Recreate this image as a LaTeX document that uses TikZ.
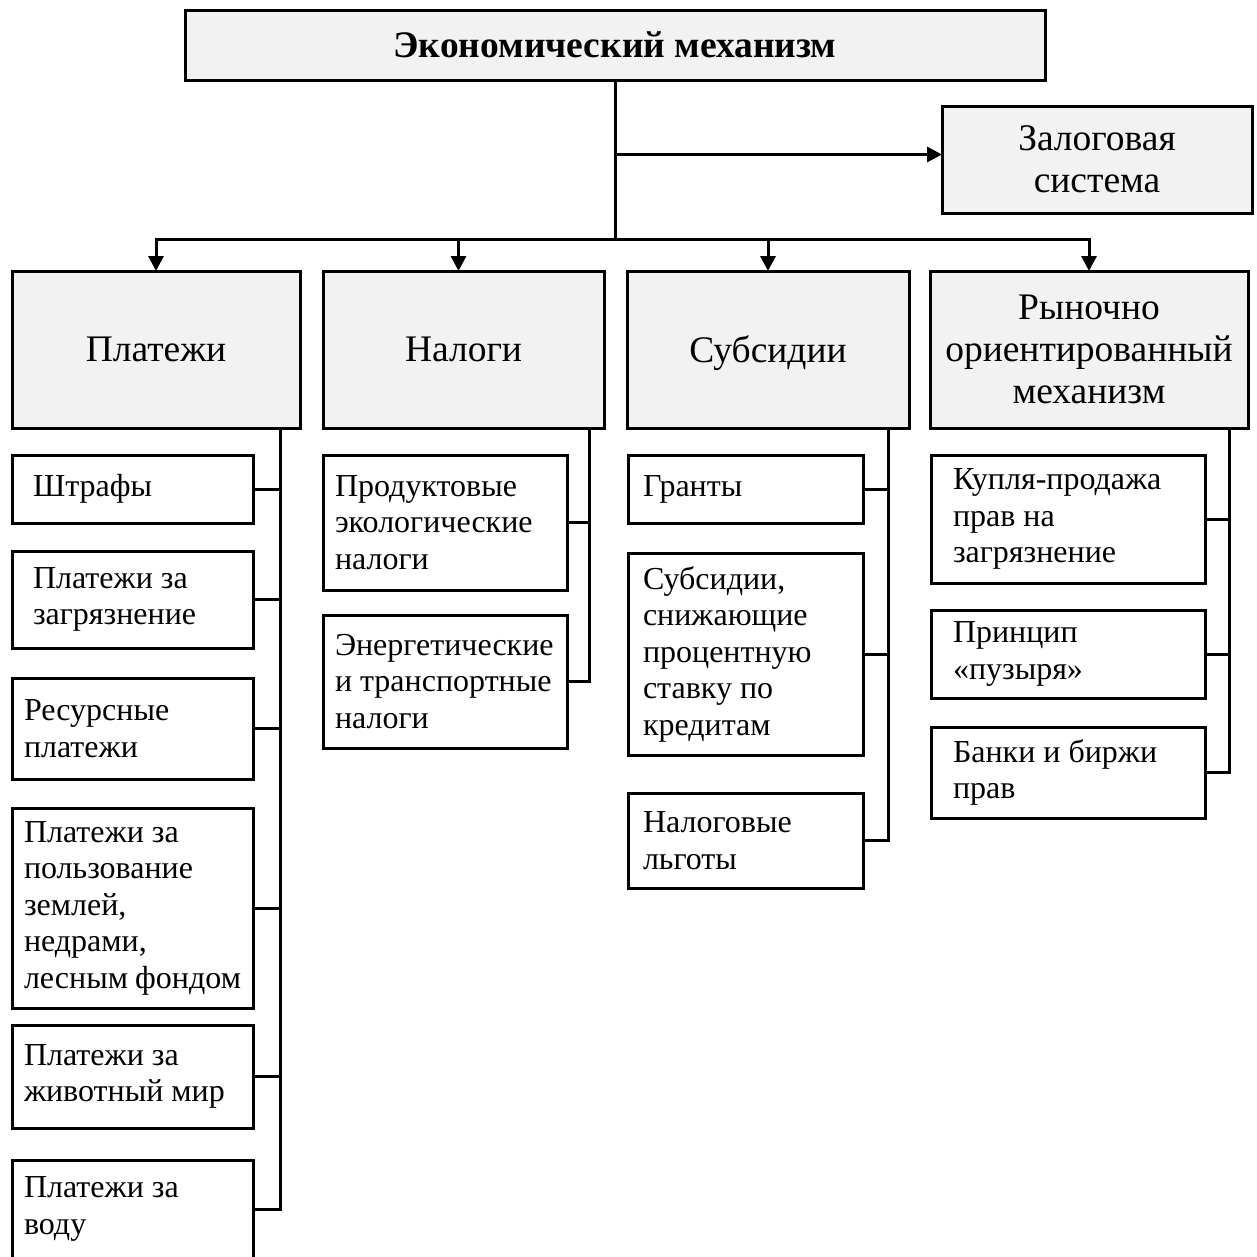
\documentclass[tikz,border=0pt]{standalone}
\usepackage{fontspec}
\setmainfont{Liberation Serif}
\usetikzlibrary{arrows.meta}
\definecolor{boxgray}{gray}{0.95}

\begin{document}
\begin{tikzpicture}[x=1pt, y=-1pt,
        box/.style={draw=black, line width=3pt, outer sep=0pt, inner sep=0pt, anchor=north west},
        headbox/.style={box, fill=boxgray, align=center, font=\fontsize{37.5}{42}\selectfont},
        itembox/.style={box, fill=white, align=flush left, font=\fontsize{32}{36.5}\selectfont},
        colA/.style={itembox, minimum width=241pt, inner xsep=12pt, text width=217pt},
        colB/.style={itembox, minimum width=244pt, inner xsep=12pt, text width=220pt},
        colC/.style={itembox, minimum width=235pt, inner xsep=15pt, text width=205pt},
        colD/.style={itembox, minimum width=274pt, inner xsep=22pt, text width=230pt},
        link/.style={line width=3pt},
        arrow/.style={line width=3pt, -{Triangle[width=15pt,length=15pt]}}]

        \useasboundingbox (0,0) rectangle (1257,1256);
        \clip (0,0) rectangle (1257,1256);

        % top
        \node[headbox, font=\fontsize{37.5}{42}\selectfont\bfseries, minimum width=860pt, minimum height=70pt] (econ) at (185,10) {Экономический механизм};
        \node[headbox, minimum width=310pt, minimum height=107pt] (zalog) at (942,106) {Залоговая\\система};

        \node[headbox, minimum width=288pt, minimum height=157pt] (plat) at (12,271) {Платежи};
        \node[headbox, minimum width=281pt, minimum height=157pt] (nal) at (323,271) {Налоги};
        \node[headbox, text depth=0pt, minimum width=282pt, minimum height=157pt] (subsid) at (627,271) {Субсидии};
        \node[headbox, minimum width=318pt, minimum height=157pt] (ryn) at (930,271) {Рыночно\\ориентированный\\механизм};

        \coordinate (bus) at (econ.south |- 0,239);
        \coordinate (zin) at ([yshift=5pt]zalog.west);
        \draw[link] (econ.south) -- (bus);
        \draw[arrow] (zin -| econ.south) -- (zin);
        \draw[arrow] (bus) -| (plat.north);
        \draw[arrow] (bus) -| ([xshift=-5pt]nal.north);
        \draw[arrow] (bus) -| (subsid.north);
        \draw[arrow] (bus) -| (ryn.north);

        % platezhi
        \node[colA, inner xsep=21pt, text width=199pt, minimum height=68pt] (shtraf) at (12,455) {Штрафы};
        \node[colA, inner xsep=21pt, text width=199pt, minimum height=97pt] (zagr) at (12,551) {Платежи за\\загрязнение};
        \node[colA, minimum height=101pt] (resurs) at (12,678) {Ресурсные\\платежи};
        \node[colA, minimum height=200pt] (polz) at (12,808) {Платежи за\\пользование\\землей,\\недрами,\\лесным~фондом};
        \node[colA, minimum height=103pt] (zhiv) at (12,1025) {Платежи за\\животный мир};
        \node[colA, minimum height=98pt] (voda) at (12,1160) {Платежи за\\воду};

        \coordinate (platbus) at ([xshift=-20pt]plat.south east);
        \draw[link] (platbus) |- (voda.east);
        \foreach \n in {shtraf,zagr,resurs,polz,zhiv}
            \draw[link] (\n.east) -- (\n.east -| platbus);

        % nalogi
        \node[colB, minimum height=135pt] (prod) at (323,455) {Продуктовые\\экологические\\налоги};
        \node[colB, minimum height=133pt] (energ) at (323,615) {Энергетические\\и транспортные\\налоги};

        \coordinate (nalbus) at ([xshift=-15pt]nal.south east);
        \draw[link] (nalbus) |- (energ.east);
        \draw[link] (prod.east) -- (prod.east -| nalbus);

        % subsidii
        \node[colC, minimum height=68pt] (grant) at (628,455) {Гранты};
        \node[colC, minimum height=202pt] (snizh) at (628,553) {Субсидии,\\снижающие\\процентную\\ставку по\\кредитам};
        \node[colC, minimum height=95pt] (lgot) at (628,793) {Налоговые\\льготы};

        \coordinate (subbus) at ([xshift=-21pt]subsid.south east);
        \draw[link] (subbus) |- (lgot.east);
        \foreach \n in {grant,snizh}
            \draw[link] (\n.east) -- (\n.east -| subbus);

        % rynok
        \node[colD, minimum height=128pt] (kupl) at (931,455) {Купля-продажа\\прав на\\загрязнение};
        \node[colD, minimum height=88pt] (puz) at (931,610) {Принцип\\«пузыря»};
        \node[colD, minimum height=91pt] (bank) at (931,727) {Банки и биржи\\прав};

        \coordinate (rynbus) at ([xshift=-19pt]ryn.south east);
        \draw[link] (rynbus) |- (bank.east);
        \foreach \n in {kupl,puz}
            \draw[link] (\n.east) -- (\n.east -| rynbus);

\end{tikzpicture}
\end{document}
